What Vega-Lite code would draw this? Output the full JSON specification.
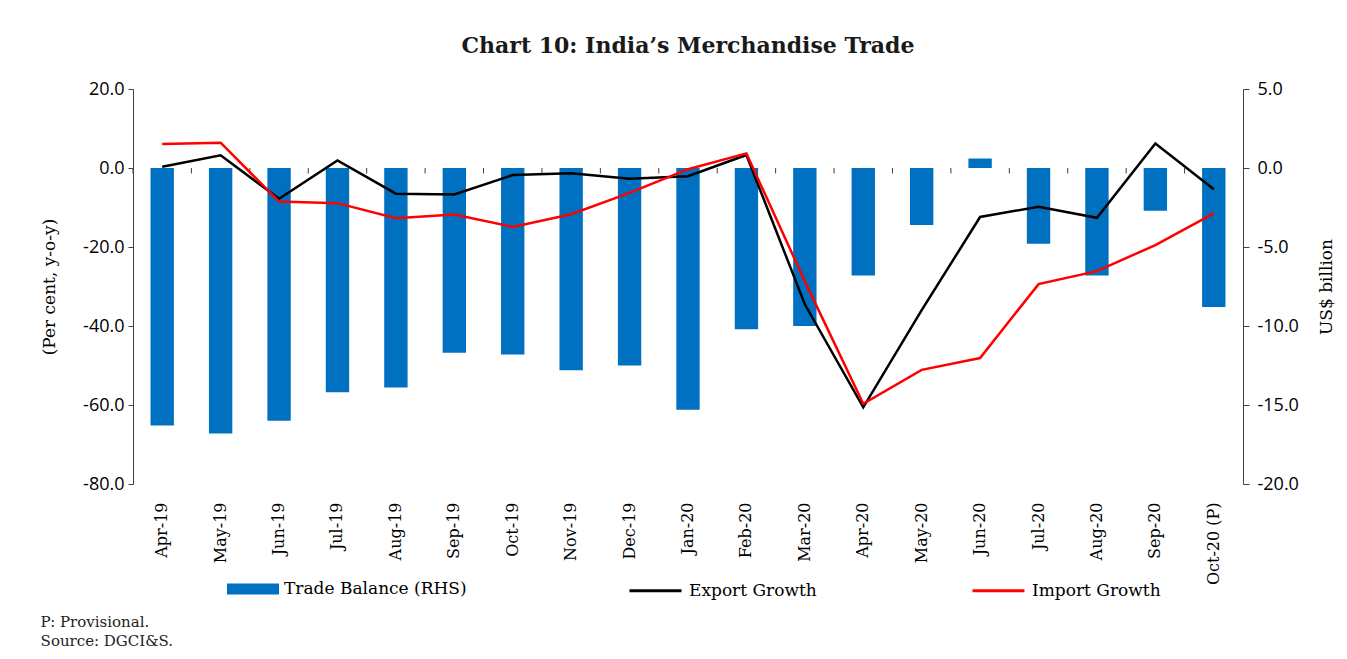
{
  "$schema": "https://vega.github.io/schema/vega-lite/v6.json",
  "background": "white",
  "padding": {"left": 40, "top": 35, "right": 8, "bottom": 6},
  "title": {
    "text": "P: Provisional.",
    "subtitle": "Source: DGCI&S.",
    "orient": "bottom",
    "anchor": "start",
    "frame": "bounds",
    "font": "DejaVu Serif",
    "fontSize": 15,
    "fontWeight": "normal",
    "color": "#222222",
    "subtitleFont": "DejaVu Serif",
    "subtitleFontSize": 15,
    "subtitleColor": "#222222",
    "subtitlePadding": 4,
    "offset": 16
  },
  "vconcat": [
    {
      "width": 1110,
      "height": 395,
      "title": {
        "text": "Chart 10: India’s Merchandise Trade",
        "font": "DejaVu Serif",
        "fontSize": 22,
        "fontWeight": "bold",
        "color": "#1a1a1a",
        "anchor": "middle",
        "offset": 22
      },
      "data": {
        "values": [
          {"month": "Apr-19", "tb": -16.3, "exp": 0.3, "imp": 6.1},
          {"month": "May-19", "tb": -16.8, "exp": 3.2, "imp": 6.4},
          {"month": "Jun-19", "tb": -16.0, "exp": -7.8, "imp": -8.5},
          {"month": "Jul-19", "tb": -14.2, "exp": 1.9, "imp": -8.9},
          {"month": "Aug-19", "tb": -13.9, "exp": -6.5, "imp": -12.7},
          {"month": "Sep-19", "tb": -11.7, "exp": -6.7, "imp": -11.8},
          {"month": "Oct-19", "tb": -11.8, "exp": -1.8, "imp": -14.9},
          {"month": "Nov-19", "tb": -12.8, "exp": -1.3, "imp": -11.7},
          {"month": "Dec-19", "tb": -12.5, "exp": -2.7, "imp": -6.3},
          {"month": "Jan-20", "tb": -15.3, "exp": -2.1, "imp": -0.3},
          {"month": "Feb-20", "tb": -10.2, "exp": 3.3, "imp": 3.7},
          {"month": "Mar-20", "tb": -10.0, "exp": -34.5, "imp": -28.7},
          {"month": "Apr-20", "tb": -6.8, "exp": -60.6, "imp": -59.7},
          {"month": "May-20", "tb": -3.6, "exp": -36.0, "imp": -51.1},
          {"month": "Jun-20", "tb": 0.6, "exp": -12.4, "imp": -48.1},
          {"month": "Jul-20", "tb": -4.8, "exp": -9.8, "imp": -29.4},
          {"month": "Aug-20", "tb": -6.8, "exp": -12.6, "imp": -26.1},
          {"month": "Sep-20", "tb": -2.7, "exp": 6.2, "imp": -19.5},
          {"month": "Oct-20 (P)", "tb": -8.8, "exp": -5.4, "imp": -11.5}
        ]
      },
      "encoding": {
        "x": {
          "field": "month",
          "type": "nominal",
          "sort": null,
          "scale": {"paddingInner": 0, "paddingOuter": 0},
          "axis": {
            "title": null,
            "ticks": false,
            "domain": false,
            "labelAngle": 270,
            "labelFont": "DejaVu Serif",
            "labelFontSize": 16,
            "labelColor": "#000000",
            "labelPadding": 18
          }
        }
      },
      "layer": [
        {
          "mark": {"type": "bar", "width": {"band": 0.4}},
          "encoding": {
            "y": {
              "field": "tb",
              "type": "quantitative",
              "scale": {"domain": [-20, 5], "nice": false, "zero": false},
              "axis": {
                "orient": "right",
                "values": [-20, -15, -10, -5, 0, 5],
                "format": ".1f",
                "labelExpr": "replace(datum.label, '−', '-')",
                "title": "US$ billion",
                "titleAngle": 270,
                "titleFont": "DejaVu Serif",
                "titleFontSize": 17,
                "titleFontWeight": "normal",
                "titlePadding": 37,
                "labelFont": "Open Sans",
                "labelFontSize": 18,
                "labelPadding": 8,
                "tickSize": 6
              }
            },
            "fill": {
              "datum": "Trade Balance (RHS)",
              "type": "nominal",
              "scale": {"range": ["#0070C0"]},
              "legend": {
                "orient": "none",
                "legendX": 94,
                "legendY": 474,
                "symbolType": "M-1,-0.2115H1V0.2115H-1Z",
                "symbolSize": 2704,
                "symbolStrokeWidth": 0,
                "labelOffset": 5,
                "title": null
              }
            }
          }
        },
        {
          "layer": [
            {
              "mark": {"type": "rule", "color": "#404040", "strokeWidth": 1},
              "encoding": {
                "y": {
                  "datum": 0,
                  "type": "quantitative",
                  "scale": {"domain": [-80, 20], "nice": false},
                  "axis": {
                    "orient": "left",
                    "values": [-80, -60, -40, -20, 0, 20],
                    "format": ".1f",
                    "labelExpr": "replace(datum.label, '−', '-')",
                    "title": "(Per cent, y-o-y)",
                    "titleFont": "DejaVu Serif",
                    "titleFontSize": 17,
                    "titleFontWeight": "normal",
                    "titlePadding": 24,
                    "labelFont": "Open Sans",
                    "labelFontSize": 18,
                    "labelPadding": 4,
                    "tickSize": 5
                  }
                }
              }
            },
            {
              "mark": {"type": "rule", "color": "#404040", "strokeWidth": 1},
              "encoding": {
                "x": {"field": "month", "type": "nominal", "sort": null, "bandPosition": 0},
                "y": {"datum": 0, "type": "quantitative", "title": "(Per cent, y-o-y)"},
                "y2": {"datum": -1.4}
              }
            },
            {
              "mark": {"type": "line", "strokeWidth": 2.5},
              "encoding": {
                "y": {"field": "exp", "type": "quantitative", "title": "(Per cent, y-o-y)"},
                "stroke": {
                  "datum": "Export Growth",
                  "type": "nominal",
                  "scale": {"domain": ["Export Growth", "Import Growth"], "range": ["#000000", "#FF0000"]},
                  "legend": {
                    "orient": "none",
                    "legendX": 495,
                    "legendY": 474,
                    "direction": "horizontal",
                    "symbolType": "stroke",
                    "symbolSize": 2704,
                    "symbolStrokeWidth": 3,
                    "columnPadding": 149,
                    "labelOffset": 6,
                    "title": null
                  }
                }
              }
            },
            {
              "mark": {"type": "line", "strokeWidth": 2.5},
              "encoding": {
                "y": {"field": "imp", "type": "quantitative", "title": "(Per cent, y-o-y)"},
                "stroke": {"datum": "Import Growth", "type": "nominal"}
              }
            }
          ]
        }
      ],
      "resolve": {"scale": {"y": "independent"}}
    }
  ],
  "config": {
    "view": {"stroke": null},
    "axis": {
      "grid": false,
      "domainColor": "#404040",
      "tickColor": "#404040",
      "labelColor": "#000000",
      "titleColor": "#000000"
    },
    "legend": {
      "labelFont": "DejaVu Serif",
      "labelFontSize": 17,
      "labelColor": "#000000",
      "labelLimit": 400
    }
  }
}
